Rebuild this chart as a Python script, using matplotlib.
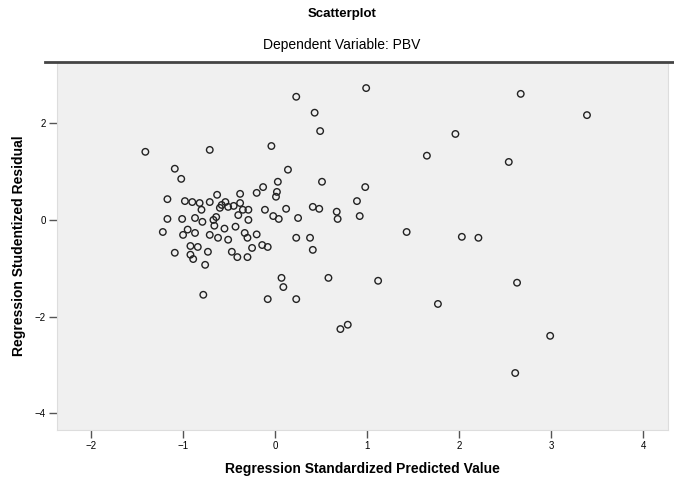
import matplotlib
matplotlib.use('Agg')
import matplotlib.pyplot as plt
from matplotlib.lines import Line2D

plt.rc('font', family='Liberation Sans', size=8)

# standardized predicted value (x) and studentized residual (y)
pred = [-1.41, -0.71, 0.23, 0.99, 0.43, 0.49, -0.04, -1.09, -1.02, 0.14,
        0.51, 0.98, 0.03, -0.13, -0.20, 0.02, 0.01, -0.38, -0.63, -1.17,
        -0.98, -0.90, -0.82, -0.71, -0.54, -0.38, -0.51, -0.80, -0.60, -0.64,
        -0.35, -0.29, -0.40, -0.29, -0.11, -0.02, 0.04, 0.12, 0.41, 0.48,
        0.25, 0.67, 0.68, 0.89, 0.92, -1.17, -1.01, -0.87, -0.79, -0.67,
        -0.43, -1.22, -1.00, -0.87, -0.71, -0.62, -0.51, -0.33, -0.30, -0.92,
        -0.84, -0.73, -1.09, -0.92, -0.89, -0.76, -0.47, -0.41, -0.30, -0.25,
        -0.14, -0.08, 0.23, 0.38, 0.41, 0.07, 0.09, -0.08, 0.23, -0.78,
        0.58, 1.12, 0.71, 0.79, 2.67, 3.39, 1.96, 1.65, 2.54, 1.43,
        2.03, 2.21, 2.63, 1.77, 2.99, 2.61,
        -0.58, -0.45, -0.95, -0.66, -0.20, -0.55]
resid = [1.41, 1.45, 2.55, 2.73, 2.22, 1.84, 1.53, 1.06, 0.85, 1.04,
         0.79, 0.68, 0.79, 0.68, 0.56, 0.58, 0.48, 0.54, 0.52, 0.43,
         0.39, 0.37, 0.35, 0.37, 0.37, 0.35, 0.27, 0.21, 0.25, 0.06,
         0.21, 0.21, 0.10, 0.00, 0.21, 0.08, 0.02, 0.23, 0.27, 0.23,
         0.04, 0.17, 0.02, 0.39, 0.08, 0.02, 0.02, 0.04, -0.04, 0.00,
         -0.14, -0.25, -0.31, -0.27, -0.31, -0.37, -0.41, -0.27, -0.37, -0.54,
         -0.56, -0.66, -0.68, -0.72, -0.81, -0.93, -0.66, -0.77, -0.77, -0.58,
         -0.52, -0.56, -0.37, -0.37, -0.62, -1.20, -1.39, -1.64, -1.64, -1.55,
         -1.20, -1.26, -2.26, -2.17, 2.61, 2.17, 1.78, 1.33, 1.20, -0.25,
         -0.35, -0.37, -1.30, -1.74, -2.40, -3.17,
         0.31, 0.29, -0.20, -0.12, -0.30, -0.18]

x_ticks = [-2, -1, 0, 1, 2, 3, 4]
y_ticks = [2, 0, -2, -4]

fig = plt.figure(figsize=(6.74, 4.78), dpi=100)
ax = fig.add_axes([0.0846, 0.1004, 0.9064, 0.7699])
ax.set_facecolor('#f0f0f0')

ax.scatter(pred, resid, s=22, facecolors='none', edgecolors='#222222', linewidths=1.0)

ax.set_xlim(-2.37, 4.27)
ax.set_ylim(-4.35, 3.27)
ax.set_xticks(x_ticks)
ax.set_yticks(y_ticks)
ax.tick_params(axis='both', direction='out', length=6, width=1, color='#555555',
               labelsize=7, pad=2)

for side in ['left', 'bottom', 'right']:
    ax.spines[side].set_color('#dddddd')
ax.spines['top'].set_visible(False)

ax.set_xlabel('Regression Standardized Predicted Value', fontsize=10, fontweight='bold', labelpad=8)
ax.set_ylabel('Regression Studentized Residual', fontsize=10, fontweight='bold', labelpad=6)

# dark rule under the title block
fig.add_artist(Line2D([45 / 674, 1.0], [1 - 62 / 478, 1 - 62 / 478],
                      color='#444444', linewidth=2.0, transform=fig.transFigure))

fig.text(0.507, 1 - 14 / 478, 'Scatterplot', ha='center', va='center',
         fontsize=9.5, fontweight='bold')
fig.text(0.507, 1 - 45 / 478, 'Dependent Variable: PBV', ha='center', va='center',
         fontsize=10)

fig.savefig('out.png', dpi=100)
